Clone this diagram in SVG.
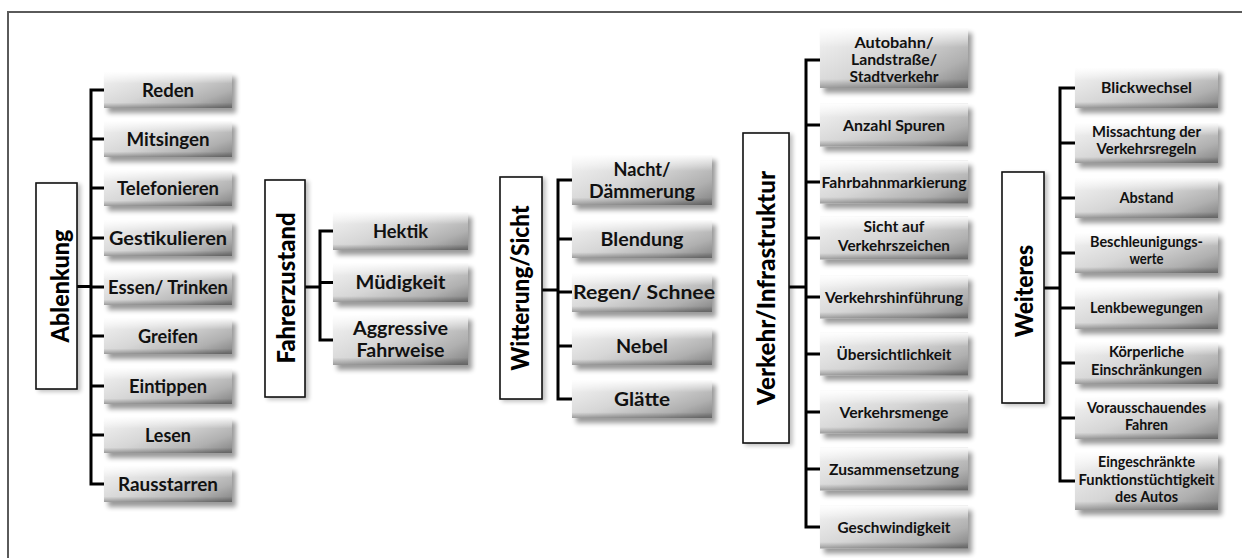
<svg xmlns="http://www.w3.org/2000/svg" width="1242" height="558" viewBox="0 0 1242 558">
  <style>
    .frame { stroke: #5a5a5a; stroke-width: 2; fill: none; }
    .root { fill: #ffffff; stroke: #111111; stroke-width: 1.6; filter: url(#rootShadow); }
    .box { fill: url(#boxFill); filter: url(#boxShadow); }
    .gloss { fill: url(#boxGloss); }
    .t { font-family: Lato, "Open Sans", "Liberation Sans", sans-serif; font-weight: 700; text-anchor: middle; fill: #111111; }
    .c1 { font-size: 19px; }
    .c4 { font-size: 16px; }
    .c5 { font-size: 15px; }
    .rt { font-family: Lato, "Open Sans", "Liberation Sans", sans-serif; font-weight: 900; font-size: 24px; text-anchor: middle; fill: #000000; }
    .wire { fill: none; stroke: #000000; stroke-width: 3; stroke-linejoin: miter; stroke-linecap: butt; }
  </style>
  <defs>
    <linearGradient id="boxFill" x1="0" y1="0.1" x2="1" y2="0.9">
      <stop offset="0" stop-color="#f2f2f2"/>
      <stop offset="0.45" stop-color="#d6d6d6"/>
      <stop offset="0.8" stop-color="#b0b0b0"/>
      <stop offset="1" stop-color="#8a8a8a"/>
    </linearGradient>
    <linearGradient id="boxGloss" x1="0" y1="0" x2="0" y2="1">
      <stop offset="0" stop-color="#ffffff" stop-opacity="0.95"/>
      <stop offset="0.12" stop-color="#ffffff" stop-opacity="0.55"/>
      <stop offset="0.32" stop-color="#ffffff" stop-opacity="0"/>
      <stop offset="0.85" stop-color="#000000" stop-opacity="0"/>
      <stop offset="1" stop-color="#000000" stop-opacity="0.28"/>
    </linearGradient>
    <filter id="boxShadow" x="-10%" y="-20%" width="125%" height="160%">
      <feGaussianBlur in="SourceAlpha" stdDeviation="2.5"/>
      <feOffset dx="4" dy="5" result="b"/>
      <feComponentTransfer><feFuncA type="linear" slope="0.4"/></feComponentTransfer>
      <feMerge><feMergeNode/><feMergeNode in="SourceGraphic"/></feMerge>
    </filter>
    <filter id="rootShadow" x="-30%" y="-10%" width="170%" height="120%">
      <feGaussianBlur in="SourceAlpha" stdDeviation="2"/>
      <feOffset dx="3" dy="2"/>
      <feComponentTransfer><feFuncA type="linear" slope="0.25"/></feComponentTransfer>
      <feMerge><feMergeNode/><feMergeNode in="SourceGraphic"/></feMerge>
    </filter>
  </defs>

  <rect width="1242" height="558" fill="#ffffff"/>
  <path class="frame" d="M8,558 V12 H1242"/>

  <!-- connector lines -->
  <g id="connectors">
    <!-- Ablenkung -->
    <path class="wire" d="M104,90 H91 V484 H104 M77,286.5 H91 M91,139 H104 M91,188 H104 M91,238 H104 M91,287 H104 M91,336 H104 M91,386 H104 M91,435 H104"/>
    <!-- Fahrerzustand -->
    <path class="wire" d="M333,231 H320 V340 H333 M305,287 H320 M320,282.5 H333"/>
    <!-- Witterung/Sicht -->
    <path class="wire" d="M572,180 H558 V399 H572 M542,290 H558 M558,239 H572 M558,292 H572 M558,346 H572"/>
    <!-- Verkehr/Infrastruktur -->
    <path class="wire" d="M820,60 H806 V527 H820 M789,287 H806 M806,125 H820 M806,182 H820 M806,238 H820 M806,297 H820 M806,354 H820 M806,412 H820 M806,469 H820"/>
    <!-- Weiteres -->
    <path class="wire" d="M1075,88 H1060 V481 H1075 M1044,288 H1060 M1060,143 H1075 M1060,198 H1075 M1060,253 H1075 M1060,308 H1075 M1060,363 H1075 M1060,418 H1075"/>
  </g>

  <!-- category boxes -->
  <g id="root-ablenkung">
    <rect class="root" x="36" y="183" width="41" height="206"/>
    <text class="rt" transform="translate(69,286) rotate(-90)" textLength="113" lengthAdjust="spacingAndGlyphs">Ablenkung</text>
  </g>
  <g id="root-fahrerzustand">
    <rect class="root" x="265" y="180" width="40" height="217"/>
    <text class="rt" transform="translate(295,288) rotate(-90)" textLength="151" lengthAdjust="spacingAndGlyphs">Fahrerzustand</text>
  </g>
  <g id="root-witterung">
    <rect class="root" x="500" y="177" width="42" height="222"/>
    <text class="rt" transform="translate(529,288) rotate(-90)" textLength="165" lengthAdjust="spacingAndGlyphs">Witterung/Sicht</text>
  </g>
  <g id="root-verkehr">
    <rect class="root" x="743" y="133" width="46" height="310"/>
    <text class="rt" transform="translate(775,288) rotate(-90)" textLength="234" lengthAdjust="spacingAndGlyphs">Verkehr/Infrastruktur</text>
  </g>
  <g id="root-weiteres">
    <rect class="root" x="1002" y="172" width="42" height="231"/>
    <text class="rt" transform="translate(1033,291) rotate(-90)" textLength="92" lengthAdjust="spacingAndGlyphs">Weiteres</text>
  </g>

  <!-- Ablenkung items -->
  <g id="n-reden"><rect class="box" x="104" y="72" width="128" height="36"/><rect class="gloss" x="104" y="72" width="128" height="36"/>
    <text class="t c1" x="168" y="96.5" textLength="52" lengthAdjust="spacingAndGlyphs">Reden</text></g>
  <g id="n-mitsingen"><rect class="box" x="104" y="121" width="128" height="36"/><rect class="gloss" x="104" y="121" width="128" height="36"/>
    <text class="t c1" x="168" y="145.5" textLength="83" lengthAdjust="spacingAndGlyphs">Mitsingen</text></g>
  <g id="n-telefonieren"><rect class="box" x="104" y="170" width="128" height="36"/><rect class="gloss" x="104" y="170" width="128" height="36"/>
    <text class="t c1" x="168" y="194.5" textLength="102" lengthAdjust="spacingAndGlyphs">Telefonieren</text></g>
  <g id="n-gestikulieren"><rect class="box" x="104" y="220" width="128" height="36"/><rect class="gloss" x="104" y="220" width="128" height="36"/>
    <text class="t c1" x="168" y="244.5" textLength="118" lengthAdjust="spacingAndGlyphs">Gestikulieren</text></g>
  <g id="n-essen"><rect class="box" x="104" y="269" width="128" height="36"/><rect class="gloss" x="104" y="269" width="128" height="36"/>
    <text class="t c1" x="168" y="293.5" textLength="120" lengthAdjust="spacingAndGlyphs">Essen/ Trinken</text></g>
  <g id="n-greifen"><rect class="box" x="104" y="318" width="128" height="36"/><rect class="gloss" x="104" y="318" width="128" height="36"/>
    <text class="t c1" x="168" y="342.5" textLength="60" lengthAdjust="spacingAndGlyphs">Greifen</text></g>
  <g id="n-eintippen"><rect class="box" x="104" y="368" width="128" height="36"/><rect class="gloss" x="104" y="368" width="128" height="36"/>
    <text class="t c1" x="168" y="392.5" textLength="78" lengthAdjust="spacingAndGlyphs">Eintippen</text></g>
  <g id="n-lesen"><rect class="box" x="104" y="417" width="128" height="36"/><rect class="gloss" x="104" y="417" width="128" height="36"/>
    <text class="t c1" x="168" y="441.5" textLength="46" lengthAdjust="spacingAndGlyphs">Lesen</text></g>
  <g id="n-rausstarren"><rect class="box" x="104" y="466" width="128" height="36"/><rect class="gloss" x="104" y="466" width="128" height="36"/>
    <text class="t c1" x="168" y="490.5" textLength="100" lengthAdjust="spacingAndGlyphs">Rausstarren</text></g>

  <!-- Fahrerzustand items -->
  <g id="n-hektik"><rect class="box" x="333" y="212" width="135" height="38"/><rect class="gloss" x="333" y="212" width="135" height="38"/>
    <text class="t c1" x="400.5" y="237.5" textLength="55" lengthAdjust="spacingAndGlyphs">Hektik</text></g>
  <g id="n-muedigkeit"><rect class="box" x="333" y="263" width="135" height="39"/><rect class="gloss" x="333" y="263" width="135" height="39"/>
    <text class="t c1" x="400.5" y="289" textLength="90" lengthAdjust="spacingAndGlyphs">Müdigkeit</text></g>
  <g id="n-aggressiv"><rect class="box" x="333" y="315" width="135" height="50"/><rect class="gloss" x="333" y="315" width="135" height="50"/>
    <text class="t c1" x="400.5" y="335" textLength="95" lengthAdjust="spacingAndGlyphs">Aggressive</text>
    <text class="t c1" x="400.5" y="357" textLength="88" lengthAdjust="spacingAndGlyphs">Fahrweise</text></g>

  <!-- Witterung/Sicht items -->
  <g id="n-nacht"><rect class="box" x="572" y="155" width="140" height="50"/><rect class="gloss" x="572" y="155" width="140" height="50"/>
    <text class="t c1" x="642" y="176" textLength="57" lengthAdjust="spacingAndGlyphs">Nacht/</text>
    <text class="t c1" x="642" y="198" textLength="106" lengthAdjust="spacingAndGlyphs">Dämmerung</text></g>
  <g id="n-blendung"><rect class="box" x="572" y="220" width="140" height="38"/><rect class="gloss" x="572" y="220" width="140" height="38"/>
    <text class="t c1" x="642" y="245.5" textLength="83" lengthAdjust="spacingAndGlyphs">Blendung</text></g>
  <g id="n-regen"><rect class="box" x="572" y="273" width="140" height="39"/><rect class="gloss" x="572" y="273" width="140" height="39"/>
    <text class="t c1" x="644" y="298.5" textLength="142" lengthAdjust="spacingAndGlyphs">Regen/ Schnee</text></g>
  <g id="n-nebel"><rect class="box" x="572" y="327" width="140" height="38"/><rect class="gloss" x="572" y="327" width="140" height="38"/>
    <text class="t c1" x="642" y="352.5" textLength="52" lengthAdjust="spacingAndGlyphs">Nebel</text></g>
  <g id="n-glaette"><rect class="box" x="572" y="380" width="140" height="38"/><rect class="gloss" x="572" y="380" width="140" height="38"/>
    <text class="t c1" x="642" y="405.5" textLength="56" lengthAdjust="spacingAndGlyphs">Glätte</text></g>

  <!-- Verkehr/Infrastruktur items -->
  <g id="n-strassentyp"><rect class="box" x="820" y="28" width="148" height="60"/><rect class="gloss" x="820" y="28" width="148" height="60"/>
    <text class="t c5" x="894" y="48" textLength="79" lengthAdjust="spacingAndGlyphs">Autobahn/</text>
    <text class="t c5" x="894" y="65" textLength="86" lengthAdjust="spacingAndGlyphs">Landstraße/</text>
    <text class="t c5" x="894" y="82" textLength="89" lengthAdjust="spacingAndGlyphs">Stadtverkehr</text></g>
  <g id="n-spuren"><rect class="box" x="820" y="103.5" width="148" height="43"/><rect class="gloss" x="820" y="103.5" width="148" height="43"/>
    <text class="t c4" x="894" y="131" textLength="102" lengthAdjust="spacingAndGlyphs">Anzahl Spuren</text></g>
  <g id="n-markierung"><rect class="box" x="820" y="160.5" width="148" height="43"/><rect class="gloss" x="820" y="160.5" width="148" height="43"/>
    <text class="t c4" x="894" y="188" textLength="145" lengthAdjust="spacingAndGlyphs">Fahrbahnmarkierung</text></g>
  <g id="n-zeichen"><rect class="box" x="820" y="216.5" width="148" height="43"/><rect class="gloss" x="820" y="216.5" width="148" height="43"/>
    <text class="t c4" x="894" y="232" textLength="61" lengthAdjust="spacingAndGlyphs">Sicht auf</text>
    <text class="t c4" x="894" y="251" textLength="112" lengthAdjust="spacingAndGlyphs">Verkehrszeichen</text></g>
  <g id="n-hinfuehrung"><rect class="box" x="820" y="275.5" width="148" height="43"/><rect class="gloss" x="820" y="275.5" width="148" height="43"/>
    <text class="t c4" x="894" y="303" textLength="138" lengthAdjust="spacingAndGlyphs">Verkehrshinführung</text></g>
  <g id="n-uebersicht"><rect class="box" x="820" y="332.5" width="148" height="43"/><rect class="gloss" x="820" y="332.5" width="148" height="43"/>
    <text class="t c4" x="894" y="360" textLength="115" lengthAdjust="spacingAndGlyphs">Übersichtlichkeit</text></g>
  <g id="n-menge"><rect class="box" x="820" y="390.5" width="148" height="43"/><rect class="gloss" x="820" y="390.5" width="148" height="43"/>
    <text class="t c4" x="894" y="418" textLength="109" lengthAdjust="spacingAndGlyphs">Verkehrsmenge</text></g>
  <g id="n-zusammensetzung"><rect class="box" x="820" y="447.5" width="148" height="43"/><rect class="gloss" x="820" y="447.5" width="148" height="43"/>
    <text class="t c4" x="894" y="475" textLength="130" lengthAdjust="spacingAndGlyphs">Zusammensetzung</text></g>
  <g id="n-geschwindigkeit"><rect class="box" x="820" y="505.5" width="148" height="43"/><rect class="gloss" x="820" y="505.5" width="148" height="43"/>
    <text class="t c4" x="894" y="533" textLength="113" lengthAdjust="spacingAndGlyphs">Geschwindigkeit</text></g>

  <!-- Weiteres items -->
  <g id="n-blickwechsel"><rect class="box" x="1075" y="68" width="143" height="40"/><rect class="gloss" x="1075" y="68" width="143" height="40"/>
    <text class="t c5" x="1146.5" y="93" textLength="91" lengthAdjust="spacingAndGlyphs">Blickwechsel</text></g>
  <g id="n-regeln"><rect class="box" x="1075" y="123" width="143" height="40"/><rect class="gloss" x="1075" y="123" width="143" height="40"/>
    <text class="t c5" x="1146.5" y="137" textLength="109" lengthAdjust="spacingAndGlyphs">Missachtung der</text>
    <text class="t c5" x="1146.5" y="154" textLength="100" lengthAdjust="spacingAndGlyphs">Verkehrsregeln</text></g>
  <g id="n-abstand"><rect class="box" x="1075" y="178" width="143" height="40"/><rect class="gloss" x="1075" y="178" width="143" height="40"/>
    <text class="t c5" x="1146.5" y="203" textLength="54" lengthAdjust="spacingAndGlyphs">Abstand</text></g>
  <g id="n-beschleunigung"><rect class="box" x="1075" y="233" width="143" height="40"/><rect class="gloss" x="1075" y="233" width="143" height="40"/>
    <text class="t c5" x="1146.5" y="247" textLength="113" lengthAdjust="spacingAndGlyphs">Beschleunigungs-</text>
    <text class="t c5" x="1146.5" y="264" textLength="34" lengthAdjust="spacingAndGlyphs">werte</text></g>
  <g id="n-lenkung"><rect class="box" x="1075" y="287" width="143" height="42"/><rect class="gloss" x="1075" y="287" width="143" height="42"/>
    <text class="t c5" x="1146.5" y="313" textLength="113" lengthAdjust="spacingAndGlyphs">Lenkbewegungen</text></g>
  <g id="n-koerper"><rect class="box" x="1075" y="342" width="143" height="42"/><rect class="gloss" x="1075" y="342" width="143" height="42"/>
    <text class="t c5" x="1146.5" y="357" textLength="75" lengthAdjust="spacingAndGlyphs">Körperliche</text>
    <text class="t c5" x="1146.5" y="375" textLength="111" lengthAdjust="spacingAndGlyphs">Einschränkungen</text></g>
  <g id="n-vorausschau"><rect class="box" x="1075" y="397" width="143" height="42"/><rect class="gloss" x="1075" y="397" width="143" height="42"/>
    <text class="t c5" x="1146.5" y="413" textLength="119" lengthAdjust="spacingAndGlyphs">Vorausschauendes</text>
    <text class="t c5" x="1146.5" y="430" textLength="43" lengthAdjust="spacingAndGlyphs">Fahren</text></g>
  <g id="n-funktion"><rect class="box" x="1075" y="452" width="143" height="58"/><rect class="gloss" x="1075" y="452" width="143" height="58"/>
    <text class="t c5" x="1146.5" y="467" textLength="97" lengthAdjust="spacingAndGlyphs">Eingeschränkte</text>
    <text class="t c5" x="1146.5" y="485" textLength="136" lengthAdjust="spacingAndGlyphs">Funktionstüchtigkeit</text>
    <text class="t c5" x="1146.5" y="502" textLength="63" lengthAdjust="spacingAndGlyphs">des Autos</text></g>
</svg>
